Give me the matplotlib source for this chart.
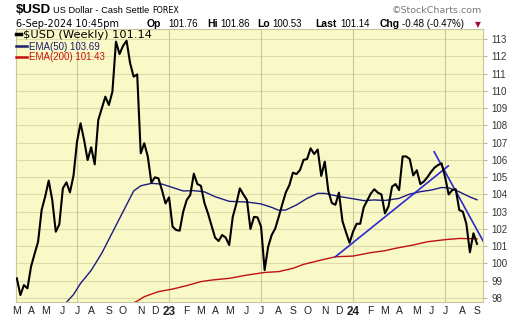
import numpy as np
import pandas as pd
import matplotlib
matplotlib.use("Agg")
import matplotlib.pyplot as plt

# weekly closes of $USD, one value per week starting with the week of 7-Mar-2022
week_start = "2022-03-07"
usd_close = [
    99.14, 98.17, 98.75, 98.56, 99.81, 100.55, 101.26, 103.10, 103.87, 104.80,
    103.68, 101.84, 102.27, 104.35, 104.70, 104.12, 105.08, 107.05, 108.12, 107.15,
    105.99, 106.73, 105.74, 108.31, 108.98, 109.66, 109.18, 109.95, 112.85, 112.13,
    112.60, 112.90, 111.60, 110.82, 110.95, 106.38, 106.96, 106.19, 104.68, 104.99,
    104.93, 104.25, 103.48, 103.83, 102.13, 101.94, 101.90, 103.00, 103.68, 103.97,
    105.20, 104.60, 104.50, 103.50, 102.90, 102.20, 101.50, 101.30, 101.65, 101.50,
    101.07, 102.70, 103.45, 104.35, 104.00, 103.68, 102.00, 102.70, 102.67, 102.13,
    99.62, 100.97, 101.65, 102.03, 102.71, 103.44, 104.12, 104.54, 105.26, 105.18,
    105.41, 106.00, 106.05, 106.67, 106.34, 106.60, 105.07, 105.90, 104.20, 103.50,
    103.40, 104.10, 102.45, 101.80, 101.20, 101.85, 102.30, 102.30, 103.25, 103.65,
    104.05, 104.30, 104.10, 104.00, 102.90, 103.30, 104.45, 104.60, 104.25, 106.20,
    106.20, 106.05, 105.10, 105.40, 104.60, 104.75, 105.00, 105.30, 105.55, 105.70,
    105.80, 105.00, 104.00, 104.25, 104.30, 103.10, 103.00, 102.30, 100.65, 101.75,
    101.14,
]

# moving averages (week number, value)
ema50_week = [12, 14, 16, 18, 21, 24, 27, 29, 31, 33, 35, 38, 41, 44, 47, 50, 53,
              56, 60, 65, 69, 72, 74, 76, 79, 82, 85, 87, 89, 92, 95, 98, 101,
              104, 108, 111, 114, 117, 120, 122, 125, 128, 130]
ema50_vals = [97.2, 97.75, 98.2, 98.85, 99.6, 100.6, 101.8, 102.6, 103.4, 104.2,
              104.5, 104.64, 104.6, 104.4, 104.2, 104.22, 104.15, 103.87, 103.6,
              103.56, 103.45, 103.25, 103.08, 103.1, 103.39, 103.77, 104.06, 104.06,
              103.97, 103.85, 103.75, 103.64, 103.68, 103.65, 103.77, 104.02, 104.16,
              104.25, 104.4, 104.38, 104.15, 103.85, 103.69]

ema200_week = [31, 34, 36, 40, 44, 48, 52, 55, 60, 65, 70, 74, 78, 81, 86, 90, 95,
               100, 104, 107, 112, 116, 121, 125, 130]
ema200_vals = [97.55, 97.82, 98.08, 98.37, 98.52, 98.72, 98.95, 99.04, 99.14, 99.33,
               99.48, 99.53, 99.72, 99.95, 100.2, 100.39, 100.43, 100.63, 100.74,
               100.88, 101.07, 101.26, 101.38, 101.45, 101.43]

# hand-drawn trendlines (week number, value)
trend_up_week = [90.0, 121.9]
trend_up_vals = [100.39, 105.65]
trend_down_week = [117.9, 132.0]
trend_down_vals = [106.47, 101.2]

y_ticks = list(range(98, 114))
month_letters = "JFMAMJJASOND"

weeks = pd.date_range(week_start, periods=len(usd_close), freq="W-MON")
x = np.arange(len(usd_close))

tick_pos, tick_lab, tick_bold = [], [], []
for i, d in enumerate(weeks):
    if i == 0 or d.month != weeks[i - 1].month:
        tick_pos.append(i)
        if d.month == 1:
            tick_lab.append(f"{d.year % 100}")
            tick_bold.append(True)
        else:
            tick_lab.append(month_letters[d.month - 1])
            tick_bold.append(False)
half_year = [p for p, d in zip(tick_pos, weeks[tick_pos]) if d.month in (1, 7)]

W, H = 520, 318
fig = plt.figure(figsize=(W / 100, H / 100), dpi=100)
ax = fig.add_axes([16 / W, 1 - 302 / H, (483 - 16) / W, (302 - 29) / H])
ax.set_facecolor("#f9f9c8")
ax.set_xlim(-0.24, 131.7)
ax.set_ylim(97.77, 113.58)

for v in y_ticks:
    ax.axhline(v, color="#dcdcaa", lw=0.8, zorder=0)
for p in half_year:
    ax.axvline(p, color="#c8c89c", lw=0.8, zorder=0)

ax.plot(ema200_week, ema200_vals, color="#c01010", lw=1.0, zorder=2)
ax.plot(ema50_week, ema50_vals, color="#1c1c80", lw=1.0, zorder=2)
ax.plot(trend_up_week, trend_up_vals, color="#2a2ad0", lw=1.2, zorder=3)
ax.plot(trend_down_week, trend_down_vals, color="#2a2ad0", lw=1.2, zorder=3)
ax.plot(x, usd_close, color="black", lw=1.5, zorder=4)

ax.yaxis.tick_right()
ax.set_yticks(y_ticks)
ax.set_yticklabels([str(v) for v in y_ticks], fontsize=7, color="#333333",
                   family="Liberation Sans")
ax.tick_params(axis="y", length=3, color="#b8b890", pad=3)
ax.set_xticks(tick_pos)
ax.set_xticklabels(tick_lab, fontsize=7.5, family="Liberation Sans", color="#222222")
ax.tick_params(axis="x", length=0, pad=3)
for lab, b in zip(ax.get_xticklabels(), tick_bold):
    if b:
        lab.set_fontweight("bold")
        lab.set_fontsize(8.5)
for s in ax.spines.values():
    s.set_color("#c8c8a0")
    s.set_linewidth(0.8)


def px(xp, yp):
    return xp / W, 1 - yp / H


# legend, top left inside the plot
fig.add_artist(plt.Line2D([16 / W, 21 / W], [1 - 34 / H] * 2, color="black", lw=2.5))
fig.text(*px(23, 38), "$USD (Weekly) 101.14", fontsize=8.2, va="baseline",
         family="DejaVu Sans")
fig.add_artist(plt.Line2D([16 / W, 27 / W], [1 - 46 / H] * 2, color="#1c1c70", lw=1.8))
fig.text(*px(29, 49.5), "EMA(50) 103.69", fontsize=7, va="baseline",
         color="#1c1c70", family="Liberation Sans")
fig.add_artist(plt.Line2D([16 / W, 27 / W], [1 - 57 / H] * 2, color="#cc1010", lw=1.8))
fig.text(*px(29, 60.5), "EMA(200) 101.43", fontsize=7, va="baseline",
         color="#cc1010", family="Liberation Sans")

# header
fig.text(*px(16, 13), "$USD", fontsize=9.5, fontweight="bold", va="baseline",
         family="Liberation Sans")
fig.text(*px(53, 13), "US Dollar - Cash Settle", fontsize=6.7, va="baseline",
         family="Liberation Sans")
fig.text(*px(152, 13), "FOREX", fontsize=5.8, va="baseline", family="DejaVu Sans")
fig.text(*px(482, 13), "\u00a9StockCharts.com", fontsize=6.8, va="baseline",
         ha="right", color="#777777", family="DejaVu Sans")

fig.text(*px(16, 27), "6-Sep-2024 10:45pm", fontsize=7, va="baseline",
         family="DejaVu Sans")
header_bits = [
    (147, "Op", True), (168, "101.76", False), (207, "Hi", True), (220, "101.86", False),
    (257, "Lo", True), (272, "100.53", False), (315, "Last", True), (340, "101.14", False),
    (380, "Chg", True), (402, "-0.48 (-0.47%)", False),
]
for xp, txt, bold in header_bits:
    fig.text(*px(xp, 27), txt, fontsize=7.5 if bold else 7, va="baseline",
             fontweight="bold" if bold else "normal", family="Liberation Sans")
fig.text(*px(475, 27), "\u25bc", fontsize=5.5, va="baseline", color="#a01030",
         family="DejaVu Sans")

fig.savefig("out.png", dpi=100, facecolor="white")
plt.close(fig)
